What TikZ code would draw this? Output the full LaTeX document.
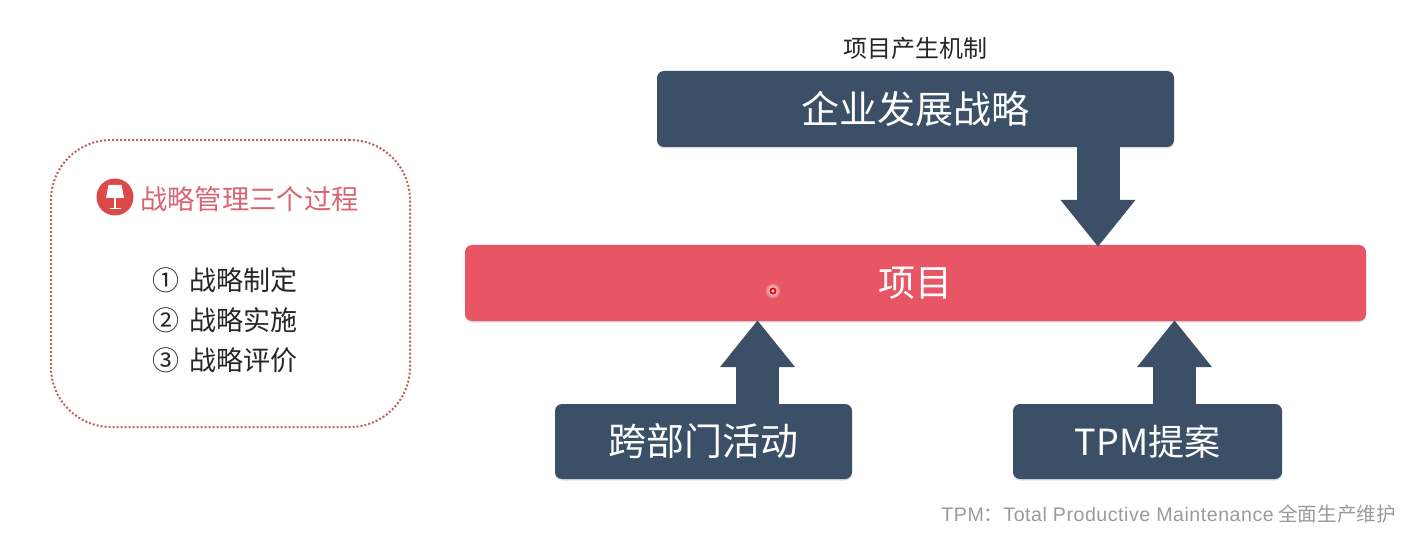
\documentclass[tikz,border=0pt]{standalone}
\usepackage{fontspec}
\setmainfont{Noto Sans CJK SC}
\newfontfamily\latinfont{Liberation Sans}[LetterSpace=2.7]
\definecolor{pmslate}{HTML}{3B5066}
\definecolor{pmred}{HTML}{E85564}
\definecolor{pmlamp}{HTML}{D94A48}
\definecolor{pmtitle}{HTML}{DC6472}
\definecolor{pmdots}{HTML}{B9615F}
\definecolor{pmgray}{HTML}{9A9A9A}
\definecolor{pmtext}{HTML}{262626}
\usepackage{tikz}
\usetikzlibrary{arrows.meta,positioning,calc,shadows}

\begin{document}
\begin{tikzpicture}[
  x=1pt, y=-1pt,
  slatebox/.style={rounded corners=7pt, fill=pmslate, text=white, inner sep=0pt,
    drop shadow={shadow xshift=0pt, shadow yshift=-1.5pt, opacity=0.25}},
  bigarrow/.style={-{Triangle[width=72pt,length=47pt]}, line width=43pt, pmslate},
  item/.style={font=\fontsize{27}{27}\selectfont, inner sep=0pt, anchor=west, text=pmtext}
]
  \useasboundingbox (0,0) rectangle (1406,540);

  % Left panel
  \node[draw=pmdots, line width=2pt, dash pattern=on 2pt off 2pt, rounded corners=60pt, inner sep=0pt,
    minimum width=359pt, minimum height=287pt] (panel) at (230.5,283.5) {};
  \node[circle, fill=pmlamp, minimum size=37pt, inner sep=0pt] (lamp) at (115,197) {};
  \fill[white] (108.5,185) -- (121.5,185) -- (124,198) -- (106,198) -- cycle;
  \fill[white] (114.3,198) rectangle (115.7,208);
  \fill[white] (109.5,208) rectangle (120.5,209.2);
  \node[item, text=pmtitle, font=\fontsize{27.3}{27}\selectfont] (paneltitle) at (140,199) {战略管理三个过程};
  \node[item] (one) at (152,280) {①\hspace{10.5pt}战略制定};
  \node[item] (two) at (152,320) {②\hspace{10.5pt}战略实施};
  \node[item] (three) at (152,360) {③\hspace{10.5pt}战略评价};

  % Mechanism
  \node[font=\fontsize{24}{24}\selectfont, inner sep=0pt, text=pmtext] (heading) at (915.5,48) {项目产生机制};
  \node[slatebox, minimum width=517pt, minimum height=76pt,
    font=\fontsize{38}{38}\selectfont] (strategy) at (915.5,109) {企业发展战略};
  \node[slatebox, fill=pmred, minimum width=901pt, minimum height=76pt,
    font=\fontsize{37}{37}\selectfont] (project) at (915.5,283) {项目};
  \node[slatebox, minimum width=297pt, minimum height=75pt,
    font=\fontsize{38}{38}\selectfont] (cross) at (703.5,441.5) {跨部门活动};
  \node[slatebox, minimum width=269pt, minimum height=75pt,
    font=\fontsize{36}{36}\selectfont] (tpm) at (1147.5,441.5) {TPM提案};

  % Arrows
  \draw[bigarrow] ([xshift=182.5pt]strategy.south) -- ([xshift=182.5pt,yshift=-2pt]project.north);
  \draw[bigarrow] ([xshift=54pt]cross.north) -- ([xshift=-158pt,yshift=1pt]project.south);
  \draw[bigarrow] ([xshift=27pt]tpm.north) -- ([xshift=259pt,yshift=1pt]project.south);

  % Pointer
  \fill[pmred!70!white] (773,291) circle (7pt);
  \fill[pmred!45!white] (773,291) circle (5pt);
  \draw[red!90!black, line width=1.6pt, fill=pmred!30!white] (773,291) circle (2.6pt);

  % Footnote
  \node[anchor=east, inner sep=0pt, text=pmgray, font=\fontsize{19.6}{20}\selectfont] (note)
    at (1396,514) {{\latinfont TPM}：{\latinfont Total Productive Maintenance} 全面生产维护};
\end{tikzpicture}
\end{document}
